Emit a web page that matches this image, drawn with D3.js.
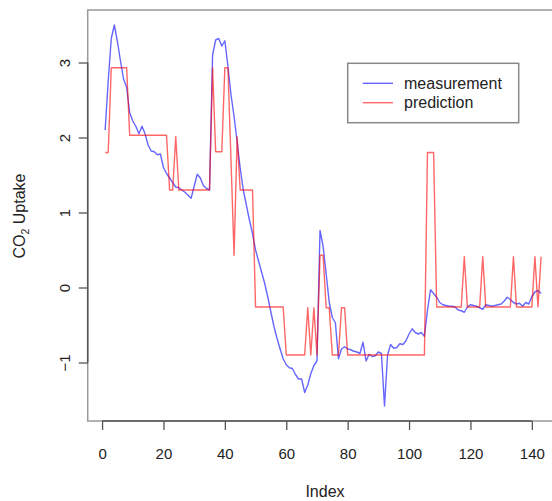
<!DOCTYPE html>
<html>
<head>
<meta charset="utf-8">
<script src="https://cdn.jsdelivr.net/npm/d3@7"></script>
<style>
  body { margin: 0; background: #fff; }
  text { font-family: "Liberation Sans", Arial, sans-serif; fill: #222; }
</style>
</head>
<body>
<div id="chart"></div>
<script>
// Observed CO2 uptake (standardised) and the model's stepwise prediction, index 1..143
var measurement = [
   2.10, 2.75, 3.32, 3.50, 3.28, 3.02, 2.78, 2.67, 2.33, 2.22,
   2.15, 2.05, 2.15, 2.05, 1.90, 1.82, 1.81, 1.77, 1.78, 1.60,
   1.52, 1.46, 1.40, 1.34, 1.33, 1.30, 1.27, 1.23, 1.19, 1.35,
   1.51, 1.46, 1.36, 1.32, 1.30, 3.10, 3.30, 3.32, 3.22, 3.29,
   2.95, 2.57, 2.28, 1.94, 1.59, 1.30, 1.10, 0.90, 0.72, 0.50,
   0.35, 0.20, 0.05, -0.13, -0.33, -0.52, -0.68, -0.82, -0.95, -1.03,
  -1.07, -1.08, -1.16, -1.22, -1.22, -1.40, -1.30, -1.15, -1.04, -0.98,
   0.76, 0.55, 0.18, -0.20, -0.40, -0.47, -0.95, -0.82, -0.79, -0.82,
  -0.83, -0.85, -0.86, -0.88, -0.73, -0.98, -0.89, -0.92, -0.91, -0.86,
  -0.88, -1.58, -0.90, -0.76, -0.81, -0.80, -0.75, -0.76, -0.71, -0.62,
  -0.55, -0.60, -0.62, -0.60, -0.65, -0.30, -0.03, -0.08, -0.13, -0.20,
  -0.23, -0.24, -0.25, -0.25, -0.26, -0.30, -0.31, -0.33, -0.26, -0.23,
  -0.24, -0.25, -0.27, -0.29, -0.23, -0.24, -0.25, -0.24, -0.23, -0.22,
  -0.18, -0.13, -0.16, -0.20, -0.22, -0.21, -0.25, -0.20, -0.22, -0.12,
  -0.06, -0.04, -0.08
];

var prediction = [
   1.80, 1.80, 2.93, 2.93, 2.93, 2.93, 2.93, 2.93, 2.03, 2.03,
   2.03, 2.03, 2.03, 2.03, 2.03, 2.03, 2.03, 2.03, 2.03, 2.03,
   2.03, 1.30, 1.30, 2.01, 1.30, 1.30, 1.30, 1.30, 1.30, 1.30,
   1.30, 1.30, 1.30, 1.30, 1.30, 2.93, 1.81, 1.81, 1.81, 2.93,
   2.93, 1.70, 0.43, 2.01, 1.30, 1.30, 1.30, 1.30, 1.30, -0.26,
  -0.26, -0.26, -0.26, -0.26, -0.26, -0.26, -0.26, -0.26, -0.26, -0.90,
  -0.90, -0.90, -0.90, -0.90, -0.90, -0.90, -0.27, -0.90, -0.27, -0.90,
   0.43, 0.43, -0.27, -0.27, -0.90, -0.90, -0.90, -0.27, -0.27, -0.90,
  -0.90, -0.90, -0.90, -0.90, -0.90, -0.90, -0.90, -0.90, -0.90, -0.90,
  -0.90, -0.90, -0.90, -0.90, -0.90, -0.90, -0.90, -0.90, -0.90, -0.90,
  -0.90, -0.90, -0.90, -0.90, -0.90, 1.80, 1.80, 1.80, -0.26, -0.26,
  -0.26, -0.26, -0.26, -0.26, -0.26, -0.26, -0.26, 0.41, -0.26, -0.26,
  -0.26, -0.26, -0.26, 0.41, -0.26, -0.26, -0.26, -0.26, -0.26, -0.26,
  -0.26, -0.26, -0.26, 0.41, -0.26, -0.26, -0.26, -0.26, -0.26, -0.26,
   0.41, -0.26, 0.41
];

var x_ticks = [0, 20, 40, 60, 80, 100, 120, 140];
var y_ticks = [-1, 0, 1, 2, 3];
var series_names = ["measurement", "prediction"];
var series_colors = ["rgba(0,0,255,0.6)", "rgba(255,0,0,0.6)"];

var width = 552, height = 501;
var plot = { left: 87.7, right: 558.5, top: 10, bottom: 421 };

var svg = d3.select("#chart").append("svg")
    .attr("width", width)
    .attr("height", height);

// R-style limits: data range padded by 4% on each side
var x_scale = d3.scaleLinear()
    .domain([-4.68, 148.68])
    .range([plot.left, plot.right]);

var y_scale = d3.scaleLinear()
    .domain([-1.78, 3.70])
    .range([plot.bottom, plot.top]);

var line = d3.line()
    .x(function(d, i) { return x_scale(i + 1); })
    .y(function(d) { return y_scale(d); });

svg.append("defs").append("clipPath")
    .attr("id", "clip")
    .append("rect")
    .attr("x", plot.left).attr("y", plot.top)
    .attr("width", plot.right - plot.left)
    .attr("height", plot.bottom - plot.top);

var lines_g = svg.append("g").attr("clip-path", "url(#clip)");

[measurement, prediction].forEach(function(series, k) {
    lines_g.append("path")
        .datum(series)
        .attr("d", line)
        .attr("fill", "none")
        .attr("stroke", series_colors[k])
        .attr("stroke-width", 1.4)
        .attr("stroke-linejoin", "round");
});

// plot frame
svg.append("rect")
    .attr("x", plot.left).attr("y", plot.top)
    .attr("width", plot.right - plot.left)
    .attr("height", plot.bottom - plot.top)
    .attr("fill", "none")
    .attr("stroke", "#999")
    .attr("stroke-width", 1.5);

// x axis
var x_axis = svg.append("g")
    .attr("transform", "translate(0," + plot.bottom + ")")
    .call(d3.axisBottom(x_scale).tickValues(x_ticks).tickSize(9).tickSizeOuter(0));
x_axis.select(".domain")
    .attr("d", "M" + x_scale(0) + ",0H" + x_scale(140))
    .attr("stroke", "#555").attr("stroke-width", 1.5);
x_axis.selectAll(".tick line").attr("stroke", "#555").attr("stroke-width", 1.3);
x_axis.selectAll(".tick text")
    .attr("y", 27)
    .attr("font-size", 15)
    .attr("font-family", "Liberation Sans, Arial, sans-serif")
    .attr("fill", "#222");

// y axis, labels parallel to the axis
var y_axis = svg.append("g")
    .attr("transform", "translate(" + plot.left + ",0)")
    .call(d3.axisLeft(y_scale).tickValues(y_ticks).tickSize(9).tickSizeOuter(0)
        .tickFormat(function(d) { return d < 0 ? "\u2212" + Math.abs(d) : d; }));
y_axis.select(".domain")
    .attr("d", "M0," + y_scale(-1) + "V" + y_scale(3))
    .attr("stroke", "#555").attr("stroke-width", 1.5);
y_axis.selectAll(".tick line").attr("stroke", "#555").attr("stroke-width", 1.3);
y_axis.selectAll(".tick text")
    .attr("x", null).attr("dy", null)
    .attr("transform", "translate(-18,0) rotate(-90)")
    .attr("text-anchor", "middle")
    .attr("font-size", 15)
    .attr("font-family", "Liberation Sans, Arial, sans-serif")
    .attr("fill", "#222");

// axis titles
svg.append("text")
    .attr("x", 325).attr("y", 497)
    .attr("text-anchor", "middle")
    .attr("font-size", 16)
    .text("Index");

var ylab = svg.append("text")
    .attr("transform", "translate(25,216) rotate(-90)")
    .attr("text-anchor", "middle")
    .attr("font-size", 16);
ylab.append("tspan").text("CO");
ylab.append("tspan").attr("font-size", 10.5).attr("dy", 4).text("2");
ylab.append("tspan").attr("dy", -4).text(" Uptake");

// legend
var legend = svg.append("g");
legend.append("rect")
    .attr("x", 347.7).attr("y", 63.3)
    .attr("width", 171).attr("height", 59.4)
    .attr("fill", "#fff")
    .attr("stroke", "#888")
    .attr("stroke-width", 1.5);

series_names.forEach(function(name, k) {
    var ly = 83.3 + k * 19.4;
    legend.append("line")
        .attr("x1", 362.7).attr("x2", 393)
        .attr("y1", ly).attr("y2", ly)
        .attr("stroke", series_colors[k])
        .attr("stroke-width", 1.4);
    legend.append("text")
        .attr("x", 404).attr("y", ly + 5.5)
        .attr("font-size", 16)
        .text(name);
});
</script>
</body>
</html>
